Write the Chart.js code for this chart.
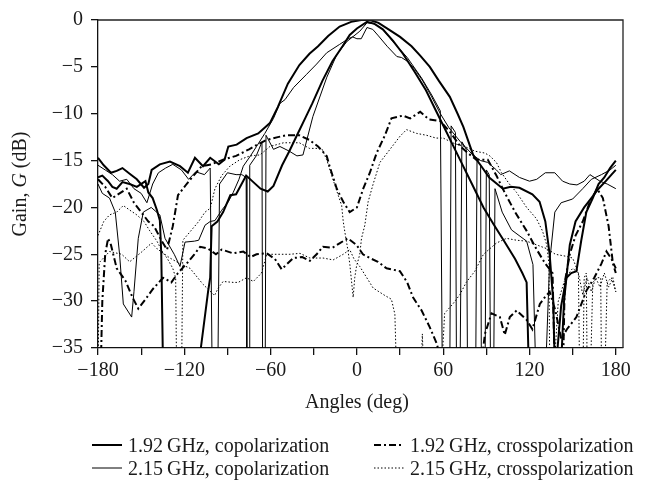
<!DOCTYPE html>
<html>
<head>
<meta charset="utf-8">
<title>Gain vs angle</title>
<script src="https://cdn.jsdelivr.net/npm/chart.js@4.4.1/dist/chart.umd.min.js"></script>
<style>
body { margin: 0; background: #fff; }
#wrap { position: relative; width: 653px; height: 484px; }
#legend { position: absolute; left: 0; top: 0; font-family: "Liberation Serif", serif; font-size: 20px; color: #1a1a1a; }
.item { position: absolute; display: flex; align-items: center; height: 24px; white-space: nowrap; }
.item svg { margin-right: 6px; }
</style>
</head>
<body>
<div id="wrap">
<canvas id="wykres" width="653" height="484"></canvas>
<div id="legend"></div>
</div>
<script>
// tick labels
var xTicks = [-180, -150, -120, -90, -60, -30, 0, 30, 60, 90, 120, 150, 180];
var xLabelled = [-180, -120, -60, 0, 60, 120, 180];
var yTicks = [0, -5, -10, -15, -20, -25, -30, -35];

var names = ['1.92\u2009GHz, copolarization', '1.92\u2009GHz, crosspolarization',
             '2.15\u2009GHz, copolarization', '2.15\u2009GHz, crosspolarization'];

// [angle deg, gain dB]; -40 = null below the axis
// 1.92 GHz copol (two cuts)
var co192a = [[-180,-14.7],[-176,-15.5],[-171,-16.3],[-167,-16.1],[-163,-15.8],[-158,-16.4],[-153,-17],[-148,-17.9],[-145,-17.5],[-142.7,-16],[-137,-15.4],[-130,-15.1],[-123,-15.6],[-117.5,-16.3],[-112.6,-14.7],[-107,-15.6],[-102,-14.7],[-96,-15.4],[-92,-14.9],[-89.4,-13.5],[-83.6,-13.3],[-76.7,-12.6],[-68.6,-12.1],[-60.5,-11],[-55,-9.3],[-48,-6.8],[-40,-4.8],[-33,-3.6],[-27,-2.8],[-20,-1.7],[-12,-0.7],[-4,-0.2],[3,0],[9,0],[15,-0.3],[22,-1],[30,-1.8],[38,-2.8],[44,-3.8],[50.7,-5],[57,-6.5],[64.6,-8.2],[70,-10],[74,-11.4],[80.8,-14.4],[86,-15.5],[92,-16.8],[101.5,-18],[107,-17.8],[113,-17.9],[122,-18.6],[127,-19.4],[131,-21.5],[134,-25],[136.5,-30],[138,-40],[139.5,-35],[142,-30.5],[145.7,-27.5],[149,-27],[152.6,-26.8],[156,-23.5],[159.5,-20.5],[164,-19],[168,-17.5],[172,-16.8],[176,-15.8],[180,-15]];
var co192b = [[-180,-16.8],[-177,-16.6],[-173,-17.2],[-170,-17.8],[-167,-18],[-163,-17.3],[-158,-17.5],[-153,-17.8],[-147,-17.2],[-145,-18.4],[-142,-19],[-139,-20.3],[-137,-21.4],[-136,-25],[-134.5,-40],[-110,-40],[-108.5,-35],[-103.5,-29],[-102,-27.5],[-101,-22],[-97,-21.5],[-93,-20.5],[-88,-18.7],[-84,-18.6],[-77,-16.6],[-72,-17.3],[-67,-18],[-62,-18.3],[-58,-17.7],[-52,-15.5],[-47,-14],[-42,-12.4],[-36,-10.5],[-31,-8.9],[-24,-6.5],[-17,-4.4],[-10,-2.8],[-5,-1.6],[0,-0.9],[7,-0.2],[12,-0.4],[18,-1],[25,-2.2],[32,-3.6],[40,-5.5],[48,-7.5],[56,-10],[64,-12.5],[72,-15],[80,-17.5],[88,-20],[95,-21.8],[102,-23.5],[110,-25.5],[115,-27],[118,-28],[120,-40],[141,-40],[144,-30],[148,-24],[152,-21.5],[158,-20],[163,-19],[168,-18],[173,-17.2],[177,-16.5],[180,-16]];
// 2.15 GHz copol
var co215a = [[-180,-17.5],[-177,-18.5],[-172,-19],[-168,-20.5],[-165,-25],[-162.4,-30.3],[-156.6,-31.7],[-155,-29],[-152,-23.3],[-148.5,-20.5],[-143,-20],[-137,-20.8],[-133.4,-23.3],[-127,-25],[-123,-26.3],[-119.5,-23.7],[-113,-23.6],[-110,-23.5],[-105.6,-21.9],[-102,-21.5],[-98.7,-21.4],[-94,-20.3],[-89.4,-19.4],[-86,-18.4],[-82,-17],[-79,-15.6],[-74,-14.5],[-69.8,-13.5],[-64,-12.1],[-58,-10.5],[-53.5,-8.9],[-50,-8.5],[-44,-7.2],[-35,-5.8],[-28,-4.7],[-21,-3.5],[-12,-2.6],[-6,-2],[-3,-1.8],[0,-2],[3,-2],[7,-0.8],[11,-1],[15,-1.7],[21,-2.8],[27.8,-3.9],[31,-4],[35,-4.4],[40,-5.2],[45.8,-6.5],[52,-8.2],[58,-10],[64,-11.5],[72,-13],[80.6,-14.4],[86,-15],[91,-15.2],[97,-16],[100,-16.5],[106,-16.1],[113,-16.8],[120,-17.2],[125,-17],[131,-16.3],[137.6,-16.3],[143,-17.2],[148,-17.5],[153,-17.6],[158,-17.2],[162,-16.5],[169,-17.2],[174,-17.5],[180,-18]];
var co215b = [[-180,-15.5],[-175,-16],[-170,-16.5],[-165,-17.2],[-160,-17],[-155,-18],[-150,-18.5],[-146,-19.5],[-142,-17.5],[-138,-16.3],[-133,-15.8],[-128,-15.4],[-122,-16],[-117,-17],[-112,-16.2],[-106,-16.5],[-102,-15.8],[-100.5,-40],[-96.8,-40],[-95.5,-17.5],[-90,-16.3],[-84,-16.5],[-80,-16.5],[-77,-16.8],[-76.5,-40],[-75,-40],[-74.5,-15.5],[-70,-14.5],[-66,-13],[-65.5,-40],[-63.8,-40],[-63.2,-12.3],[-58,-13.8],[-53.5,-13.5],[-47,-14],[-41.7,-14.5],[-37.5,-14.4],[-30.6,-10.3],[-20.9,-6.1],[-14,-3.7],[-7,-2.3],[2,-1.2],[7,-0.3],[12,-0.4],[18,-1],[25,-2.3],[35,-4],[45,-6.2],[52,-8],[58,-9.7],[59.5,-40],[64.5,-40],[65.5,-11.3],[68.5,-12],[69.3,-40],[71.6,-40],[73,-13],[76,-13.8],[77,-40],[82.5,-40],[83.5,-15],[86,-15.5],[86.6,-40],[89,-40],[90,-16],[92,-16.5],[93,-40],[95,-40],[96,-18],[101,-20.5],[107.5,-22.4],[118,-23.6],[122.4,-26.1],[124.8,-40],[130.6,-40],[134,-25.8],[137.6,-20.5],[142,-19.5],[150,-19.1],[157,-18],[163,-17],[170,-16.5],[176,-16],[180,-15.5]];
// 1.92 GHz crosspol
var xp192a = [[-180,-17],[-175,-17.8],[-170,-19],[-165,-18.5],[-160,-18],[-155,-19.5],[-150,-20.5],[-145,-21.5],[-141,-22],[-136,-23.5],[-132,-24.5],[-128,-22],[-124.4,-18.7],[-118.4,-17.5],[-113,-16.5],[-108,-15.6],[-101,-15.4],[-93,-14.9],[-84,-14.5],[-75,-13.8],[-68,-13.2],[-63,-12.8],[-55,-12.5],[-49,-12.3],[-40,-12.3],[-33,-12.8],[-27,-13.5],[-21,-14.5],[-19,-15.6],[-14,-18],[-9.5,-19.4],[-5,-20.5],[0,-20],[4.4,-18],[9,-16.3],[13.7,-14.2],[19.5,-12.3],[24,-10.5],[32,-10.2],[37,-10.5],[44,-9.8],[50,-10.6],[58,-10.8],[65,-12],[72,-13.5],[78,-14.3],[83,-14.9],[91,-14.9],[97,-16.6],[103,-18.5],[110,-20.5],[118,-22.5],[125,-24.5],[131,-26],[136,-27],[138,-40],[143,-40],[144.5,-28],[148,-25],[152,-23],[157,-21.5],[162,-19.4],[167,-18],[171,-19],[175,-22],[178,-26],[180,-27]];
var xp192b = [[-180,-40],[-178.5,-40],[-177,-30],[-175,-25],[-173,-23.3],[-171,-24],[-167,-26.5],[-161,-27.8],[-156,-29.6],[-152,-30.8],[-147,-29.8],[-141.8,-28.7],[-134.8,-27.5],[-129,-28],[-124.4,-27],[-118.4,-26],[-113,-25],[-109,-24.2],[-103.4,-24.4],[-98,-25],[-94,-24.5],[-86,-24.9],[-79,-24.7],[-74,-25.3],[-69.8,-25],[-62.7,-24.9],[-57,-25.5],[-52.3,-26.6],[-44.3,-25.4],[-38,-25.3],[-32.7,-25.7],[-28,-25],[-23.6,-24.2],[-17,-24.3],[-11.8,-23.8],[-6.3,-23.3],[-0.3,-24],[4.2,-25],[9,-25.4],[14.6,-25.8],[20.6,-26.5],[29.9,-26.8],[35,-28],[39,-29.6],[45,-31],[50.7,-32.8],[55.4,-34.5],[60,-37],[70,-40],[84,-40],[89,-33.5],[93.6,-31.3],[99.4,-31.7],[102.8,-33.6],[106.3,-31.7],[111,-31],[118,-32],[122,-33],[127.2,-30.3],[130.6,-29.6],[134,-29],[138,-31],[142,-34],[146,-33],[152.6,-31.7],[159.5,-28.9],[165,-27.5],[170,-26],[173.5,-24.7],[177,-25.5],[180,-26.5]];
// 2.15 GHz crosspol
var xp215a = [[-180,-23],[-176,-21.5],[-172,-20.8],[-167,-20.5],[-162.4,-19.8],[-157.8,-20.3],[-153,-20.8],[-148,-21.5],[-144,-22.5],[-139,-23.6],[-135,-24.8],[-132,-25.4],[-128,-26.5],[-126,-27.5],[-125.2,-40],[-122,-40],[-121,-23.5],[-116,-22.6],[-110,-21.5],[-105.6,-20.5],[-102,-20.1],[-98.7,-18],[-94,-16.6],[-88.3,-15.6],[-81.3,-14.9],[-74.4,-14.5],[-67.4,-14.4],[-60.5,-13.5],[-51,-13.1],[-40,-13.1],[-33,-13.7],[-24.5,-13.7],[-21,-14.9],[-17.5,-16.6],[-13,-18.7],[-10.6,-19.8],[-9.5,-21.5],[-8.4,-22.6],[-6.1,-24.7],[-4.9,-26.1],[-2.6,-29.6],[-1.5,-27.5],[-0.3,-26.3],[2,-25],[3.2,-23.3],[5.5,-21.9],[7.8,-19.4],[11.3,-17.5],[16,-15.2],[23,-13.8],[30,-12.4],[34.5,-11.7],[41.5,-12.1],[48.4,-12.3],[55,-12.6],[60,-12.6],[68,-13.2],[75,-13.5],[82,-14],[89,-14.2],[92.4,-14.5],[97,-15.2],[100.5,-16.3],[106,-17.5],[111,-18.4],[118,-20],[124.8,-21.2],[129,-22.5],[132,-24],[133.5,-26],[134.2,-40],[136,-40],[140,-30],[145,-27.5],[150,-26.5],[154,-27],[155,-40],[157,-40],[158,-27.5],[159.5,-27],[160.2,-40],[162,-40],[164,-28],[167,-27.5],[169.5,-27.5],[170.2,-40],[172,-40],[174,-28],[177,-27.5],[180,-29]];
var xp215b = [[-180,-40],[-179.2,-26],[-178.6,-25.8],[-172,-24.7],[-163.5,-25],[-158,-25.8],[-150,-24.8],[-142.7,-23.8],[-139,-24.4],[-130,-25.4],[-123,-26],[-116,-26.5],[-107,-28.2],[-99,-29.4],[-96.4,-28.6],[-93,-27.9],[-86,-28],[-82.5,-28],[-76.7,-27.5],[-72,-27.9],[-66.3,-27],[-62.7,-25],[-55.8,-25],[-46.6,-25],[-39.6,-24.9],[-32.7,-25.4],[-23.5,-25.4],[-16.5,-25.6],[-9.5,-25],[-5,-24.5],[-2,-25.5],[2,-26.3],[11.3,-28.6],[19.5,-29.4],[24,-29.8],[26.4,-31.4],[28,-40],[44,-40],[45.5,-33.5],[47,-40],[58,-40],[60,-34.2],[61,-31.3],[66.7,-30.3],[71.6,-29.3],[76,-28],[82,-26.8],[88,-25],[97,-23.8],[104,-23.3],[111,-23.5],[118,-23.6],[125,-24],[132,-24.4],[138,-25],[145,-25.2],[150,-25.4],[154,-27],[157,-29.3],[160,-27.5],[163,-29],[166,-27.5],[169,-28.5],[172,-27],[175,-28.5],[178,-27.5],[180,-29]];

// line styles per legend entry
var styles = [
  {width: 2, dash: []},          // 1.92 co
  {width: 2, dash: [7, 3, 2, 3]},// 1.92 cross
  {width: 1, dash: []},          // 2.15 co
  {width: 1, dash: [1.5, 2]}     // 2.15 cross
];

function punkty(arr) {
  return arr.map(function(p) { return {x: p[0], y: p[1]}; });
}
function seria(arr, st) {
  return {
    data: punkty(arr),
    borderColor: '#000',
    borderWidth: st.width,
    borderDash: st.dash,
    pointRadius: 0,
    tension: 0,
    fill: false
  };
}

var minus = function(v) { return v < 0 ? '\u2212' + Math.abs(v) : '' + v; };
var fontSerif = 'Liberation Serif';

// frame on top/right + axis titles (G in italic)
var ramka = {
  id: 'ramka',
  afterDraw: function(chart) {
    var ctx = chart.ctx, a = chart.chartArea;
    ctx.save();
    ctx.strokeStyle = '#222';
    ctx.lineWidth = 1.3;
    ctx.beginPath();
    ctx.moveTo(a.left, a.top);
    ctx.lineTo(a.right, a.top);
    ctx.lineTo(a.right, a.bottom);
    ctx.stroke();

    ctx.fillStyle = '#1a1a1a';
    ctx.textBaseline = 'middle';
    ctx.textAlign = 'center';
    ctx.font = '20px "' + fontSerif + '"';
    ctx.fillText('Angles (deg)', chart.scales.x.getPixelForValue(0), 403);

    ctx.translate(21, (a.top + a.bottom) / 2);
    ctx.rotate(-Math.PI / 2);
    ctx.textAlign = 'left';
    var czesci = [['Gain, ', ''], ['G', 'italic '], [' (dB)', '']];
    var w = 0;
    czesci.forEach(function(c) { ctx.font = c[1] + '20px "' + fontSerif + '"'; w += ctx.measureText(c[0]).width; });
    var x = -w / 2;
    czesci.forEach(function(c) {
      ctx.font = c[1] + '20px "' + fontSerif + '"';
      ctx.fillText(c[0], x, 0);
      x += ctx.measureText(c[0]).width;
    });
    ctx.restore();
  }
};

var ctx = document.getElementById('wykres');
var wykres = new Chart(ctx, {
  type: 'line',
  data: {
    datasets: [
      seria(co192a, styles[0]), seria(co192b, styles[0]),
      seria(co215a, styles[2]), seria(co215b, styles[2]),
      seria(xp192a, styles[1]), seria(xp192b, styles[1]),
      seria(xp215a, styles[3]), seria(xp215b, styles[3])
    ]
  },
  options: {
    responsive: false,
    animation: false,
    devicePixelRatio: 1,
    layout: { padding: { top: 15, right: 30, bottom: 66, left: 0 } },
    plugins: { legend: { display: false }, tooltip: { enabled: false } },
    scales: {
      x: {
        type: 'linear',
        min: -180,
        max: 185,
        afterBuildTicks: function(scale) {
          scale.ticks = xTicks.map(function(v) { return {value: v}; });
        },
        afterFit: function(scale) { scale.height = 70; },
        ticks: {
          autoSkip: false,
          maxRotation: 0,
          padding: 4,
          color: '#1a1a1a',
          font: { family: fontSerif, size: 20 },
          callback: function(v) { return xLabelled.indexOf(v) >= 0 ? minus(v) : ''; }
        },
        grid: { drawOnChartArea: false, tickLength: 7, color: '#111', lineWidth: 1.3 },
        border: { color: '#111', width: 1.3 }
      },
      y: {
        min: -35,
        max: 0,
        afterBuildTicks: function(scale) {
          scale.ticks = yTicks.map(function(v) { return {value: v}; });
        },
        afterFit: function(scale) { scale.width = 98; },
        ticks: {
          padding: 8,
          color: '#1a1a1a',
          font: { family: fontSerif, size: 20 },
          callback: function(v) { return minus(v); }
        },
        grid: { drawOnChartArea: false, tickLength: 7, color: '#111', lineWidth: 1.3 },
        border: { color: '#111', width: 1.3 }
      }
    }
  },
  plugins: [ramka]
});

// legend in two columns, below the plot
var poz = [[92, 433], [374, 433], [92, 456], [374, 456]];
var leg = document.getElementById('legend');
names.forEach(function(n, i) {
  var st = styles[i];
  var d = document.createElement('div');
  d.className = 'item';
  d.style.left = poz[i][0] + 'px';
  d.style.top = poz[i][1] + 'px';
  d.innerHTML = '<svg width="30" height="10"><line x1="0" y1="5" x2="30" y2="5" stroke="#000" stroke-width="' +
    st.width + '" stroke-dasharray="' + (st.dash.length ? st.dash.join(' ') : 'none') + '"/></svg><span>' + n + '</span>';
  leg.appendChild(d);
});
</script>
</body>
</html>
